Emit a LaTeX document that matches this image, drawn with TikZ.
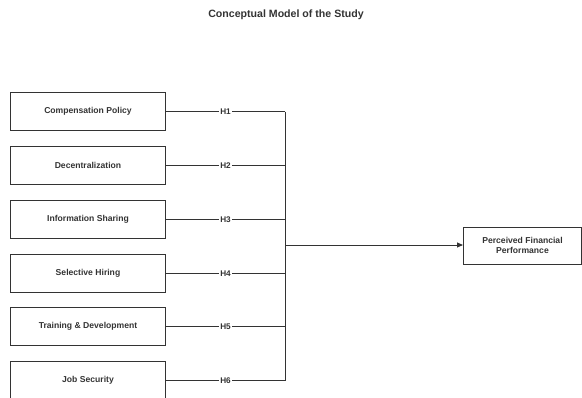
\documentclass[tikz,border=0pt]{standalone}
\usepackage{fontspec}
\setmainfont{Liberation Sans}
\usetikzlibrary{arrows.meta}
\definecolor{ink}{HTML}{333333}
\tikzset{
  srcbox/.style={draw=ink, line width=1pt, minimum width=155pt, minimum height=38pt, inner sep=0pt,
    font=\fontsize{8.6}{10}\selectfont\bfseries, text=ink, anchor=north west},
  hlab/.style={fill=white, inner sep=1pt, font=\fontsize{8.2}{10}\selectfont\bfseries, text=ink},
  conn/.style={draw=ink, line width=0.9pt},
}
\begin{document}
\begin{tikzpicture}[x=1pt,y=-1pt]
\useasboundingbox (0,0) rectangle (582,397);
\node[font=\fontsize{10.6}{12}\selectfont\bfseries, text=ink] (title) at (286,15) {Conceptual Model of the Study};
\node[srcbox] (b1) at (10,92) {Compensation Policy};
\node[srcbox] (b2) at (10,146) {Decentralization};
\node[srcbox] (b3) at (10,200) {Information Sharing};
\node[srcbox] (b4) at (10,254) {Selective Hiring};
\node[srcbox] (b5) at (10,307) {Training \& Development};
\node[srcbox] (b6) at (10,361) {Job Security};
\node[draw=ink, line width=1pt, minimum width=118pt, minimum height=37pt, inner sep=0pt,
  font=\fontsize{8.6}{9.5}\selectfont\bfseries, text=ink, align=center, anchor=north west]
  (out) at (463,226.5) {Perceived Financial\\Performance};
\coordinate (bus) at (285,245);
\foreach \i in {1,...,6}{
  \coordinate (j\i) at (b\i.east -| bus);
  \draw[conn] (b\i.east) -- (j\i) node[hlab, pos=0.5] {H\i};
}
\draw[conn] (j1) -- (j6);
\draw[conn, -{Triangle[length=6pt,width=5pt]}] (bus) -- (bus -| out.west);
\end{tikzpicture}
\end{document}
